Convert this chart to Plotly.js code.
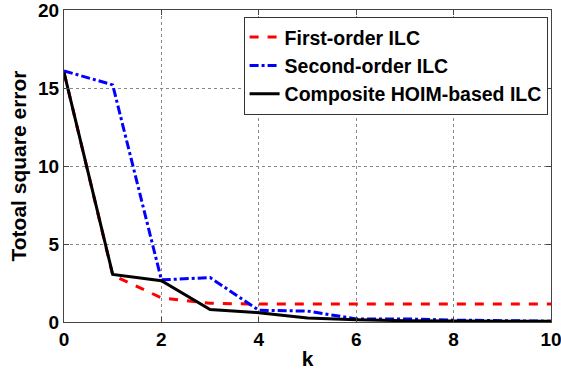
<!DOCTYPE html>
<html><head><meta charset="utf-8">
<script src="https://cdn.plot.ly/plotly-3.0.1.min.js"></script>
<style>body{margin:0;background:#fff}#chart{width:561px;height:375px}</style>
</head><body><div id="chart"></div>
<script>
const k = [0,1,2,3,4,5,6,7,8,9,10];
const firstOrder = [16.0,3.0,1.55,1.2,1.15,1.15,1.15,1.15,1.15,1.15,1.15];
const secondOrder = [16.1,15.2,2.7,2.85,0.75,0.7,0.2,0.2,0.12,0.1,0.05];
const composite = [16.0,3.05,2.65,0.8,0.6,0.25,0.15,0.08,0.06,0.05,0.05];
const names = ['First-order ILC','Second-order ILC','Composite HOIM-based ILC'];
const xTicks = [0,2,4,6,8,10];
const yTicks = [0,5,10,15,20];

const FONT = 'Liberation Sans, Arial';
const traces = [
  {x:k,y:firstOrder,name:'<b>'+names[0]+'</b>',mode:'lines',line:{color:'#ff0000',width:3,dash:'dash'}},
  {x:k,y:secondOrder,name:'<b>'+names[1]+'</b>',mode:'lines',line:{color:'#0000ff',width:3,dash:'dashdot'}},
  {x:k,y:composite,name:'<b>'+names[2]+'</b>',mode:'lines',line:{color:'#000000',width:3}}
];
const axisCommon = {
  showline:true,linecolor:'#444',linewidth:1,mirror:'ticks',ticks:'inside',ticklen:5,tickcolor:'#444',
  showgrid:true,gridcolor:'#888',griddash:'dot',gridwidth:1,zeroline:false,ticklabeloverflow:'allow',
  tickfont:{family:FONT,size:19,color:'#000'}
};
const layout = {
  width:561,height:375,margin:{l:64,r:10,t:10,b:53},
  paper_bgcolor:'#fff',plot_bgcolor:'#fff',showlegend:true,
  xaxis:Object.assign({},axisCommon,{range:[0,10],tickvals:xTicks,ticktext:xTicks.map(v=>'<b>'+v+'</b>'),
    title:{text:'<b>k</b>',font:{family:FONT,size:21,color:'#000'},standoff:2}}),
  yaxis:Object.assign({},axisCommon,{range:[0,20],tickvals:yTicks,ticktext:yTicks.map(v=>'<b>'+v+'</b>'),
    title:{text:'<b>Totoal square error</b>',font:{family:FONT,size:21,color:'#000'},standoff:5}}),
  legend:{x:0.993,y:0.978,xanchor:'right',yanchor:'top',bgcolor:'#fff',bordercolor:'#333',borderwidth:1,
    font:{family:FONT,size:19.5,color:'#000'},tracegroupgap:0}
};
Plotly.newPlot('chart',traces,layout,{displayModeBar:false,staticPlot:true});
</script></body></html>
